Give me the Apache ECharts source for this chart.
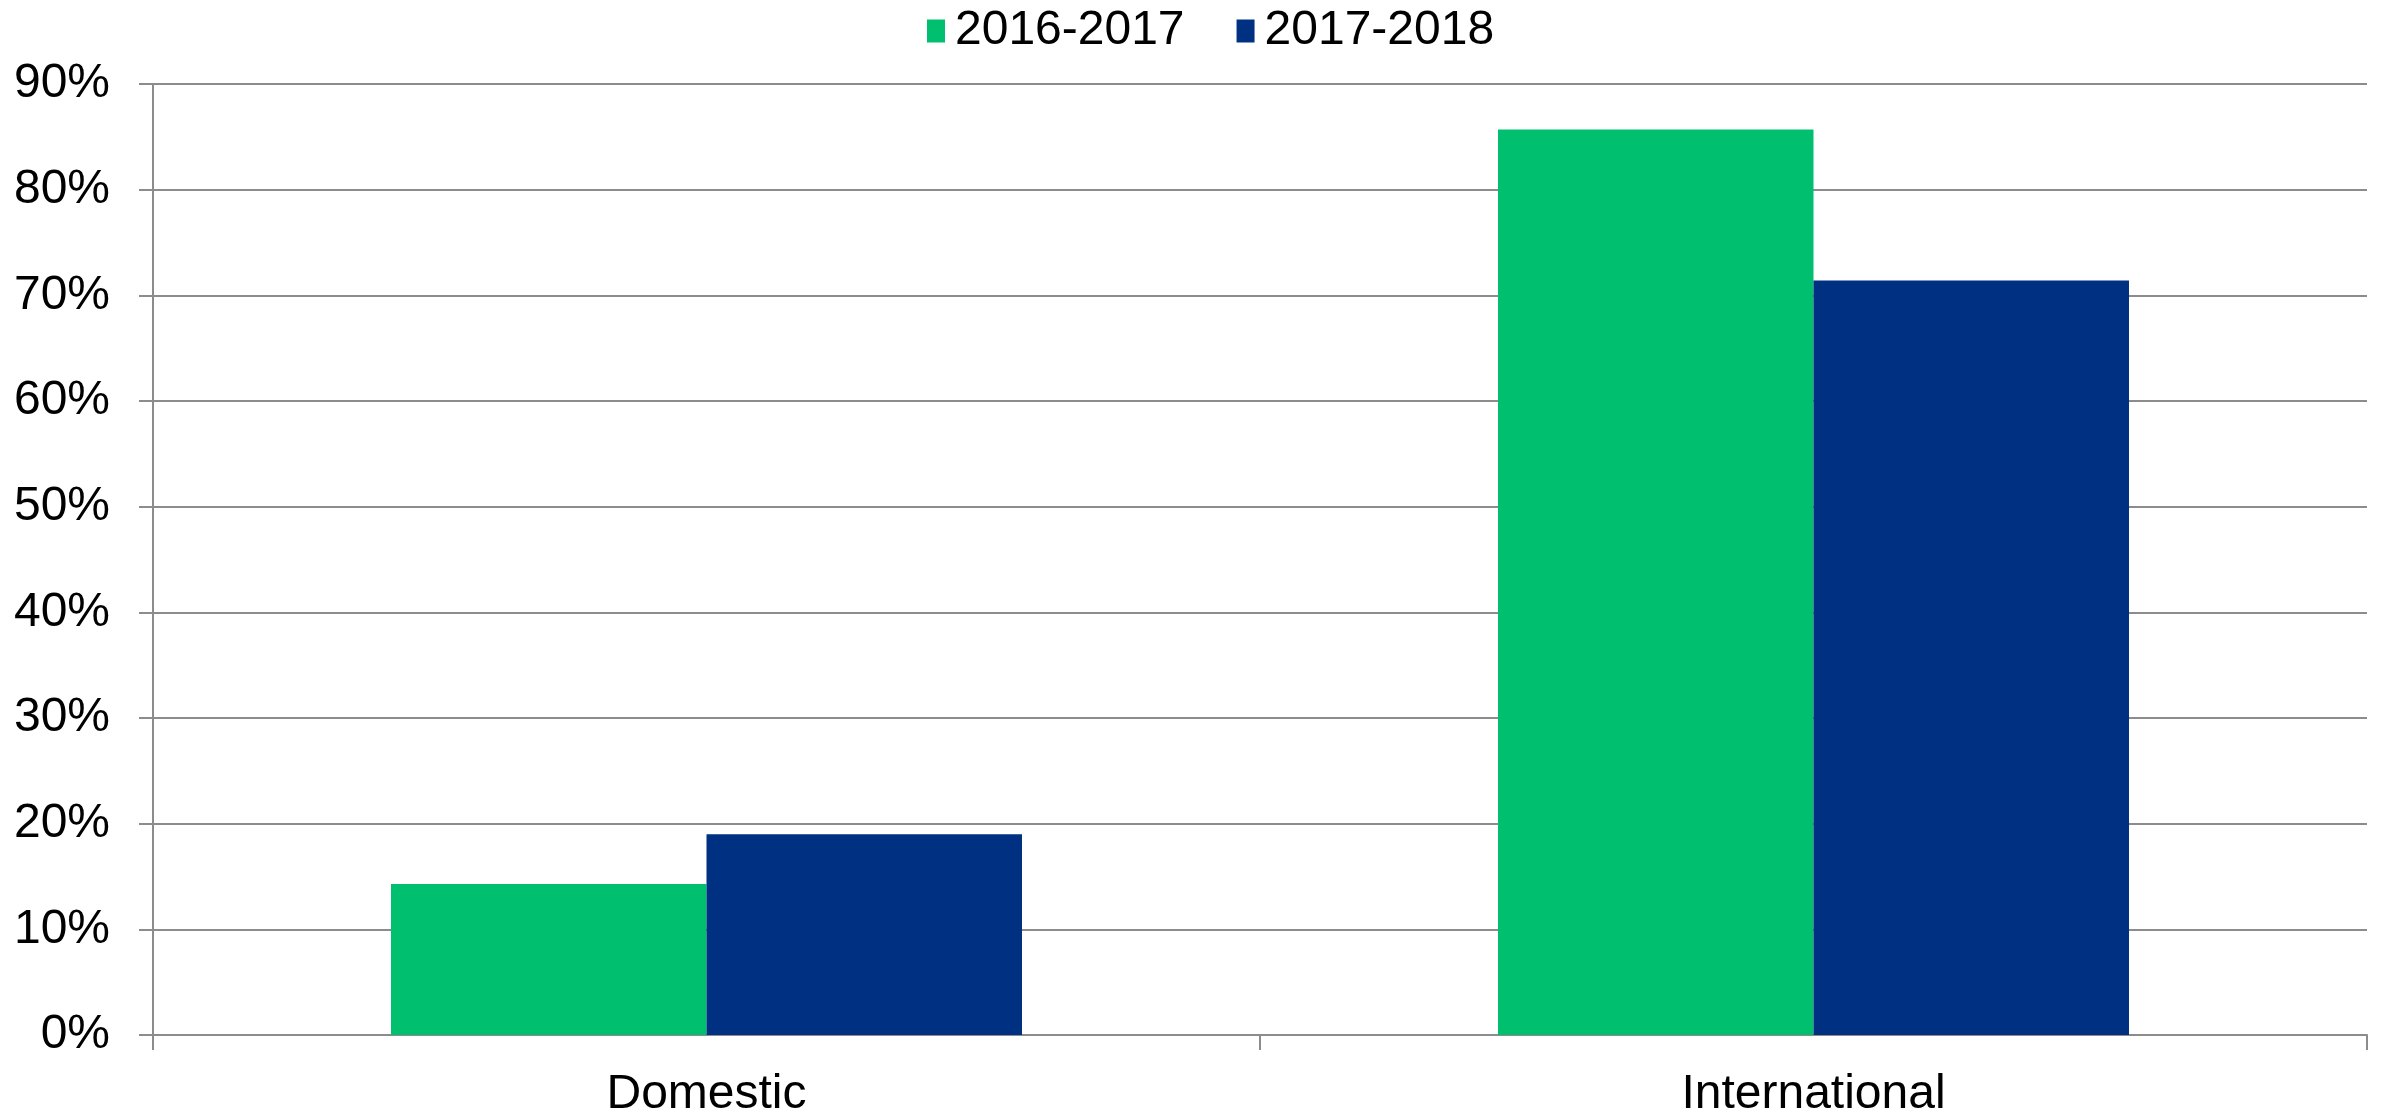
<!DOCTYPE html>
<html>
<head>
<meta charset="utf-8">
<style>
  html, body { margin: 0; padding: 0; background: #ffffff; }
  #chart { width: 2385px; height: 1114px; }
</style>
<script src="https://cdn.jsdelivr.net/npm/echarts@6/dist/echarts.min.js"></script>
</head>
<body>
<div id="chart"></div>
<script>
const categories = ['Domestic', 'International'];
const seriesNames = ['2016-2017', '2017-2018'];
const values2016 = [14.3, 85.7];
const values2017 = [19.0, 71.4];
const yTicks = { min: 0, max: 90, interval: 10 };

const chart = echarts.init(document.getElementById('chart'), null, { renderer: 'canvas' });
const font = '"Liberation Sans", Arial, sans-serif';
const grey = '#8c8c8c';

chart.setOption({
  animation: false,
  backgroundColor: '#ffffff',
  textStyle: { fontFamily: font },
  legend: {
    top: 2,
    left: 922,
    itemWidth: 18,
    itemHeight: 23,
    itemGap: 52,
    icon: 'rect',
    textStyle: { fontSize: 48, color: '#000000', fontFamily: font, padding: [0, 0, 0, 5] },
    data: seriesNames
  },
  grid: { left: 153, right: 18, top: 84, bottom: 79, containLabel: false, outerBoundsMode: 'none' },
  xAxis: {
    type: 'category',
    data: categories,
    boundaryGap: true,
    axisLine: { show: true, lineStyle: { color: grey, width: 2 } },
    axisTick: { show: true, length: 15, lineStyle: { color: grey, width: 2 } },
    axisLabel: { fontSize: 48, color: '#000000', fontFamily: font, margin: 36 },
    splitLine: { show: false }
  },
  yAxis: {
    type: 'value',
    min: yTicks.min,
    max: yTicks.max,
    interval: yTicks.interval,
    axisLine: { show: true, lineStyle: { color: grey, width: 2 } },
    axisTick: { show: true, length: 14, lineStyle: { color: grey, width: 2 } },
    axisLabel: { fontSize: 48, color: '#000000', fontFamily: font, margin: 43, formatter: '{value}%', padding: [5, 0, 0, 0] },
    splitLine: { show: true, lineStyle: { color: grey, width: 2 } }
  },
  series: [
    {
      name: seriesNames[0],
      type: 'bar',
      data: values2016,
      itemStyle: { color: '#00BF6F' },
      barGap: '0%',
      barCategoryGap: '43%'
    },
    {
      name: seriesNames[1],
      type: 'bar',
      data: values2017,
      itemStyle: { color: '#003082' },
      barGap: '0%',
      barCategoryGap: '43%'
    }
  ]
});
</script>
</body>
</html>
